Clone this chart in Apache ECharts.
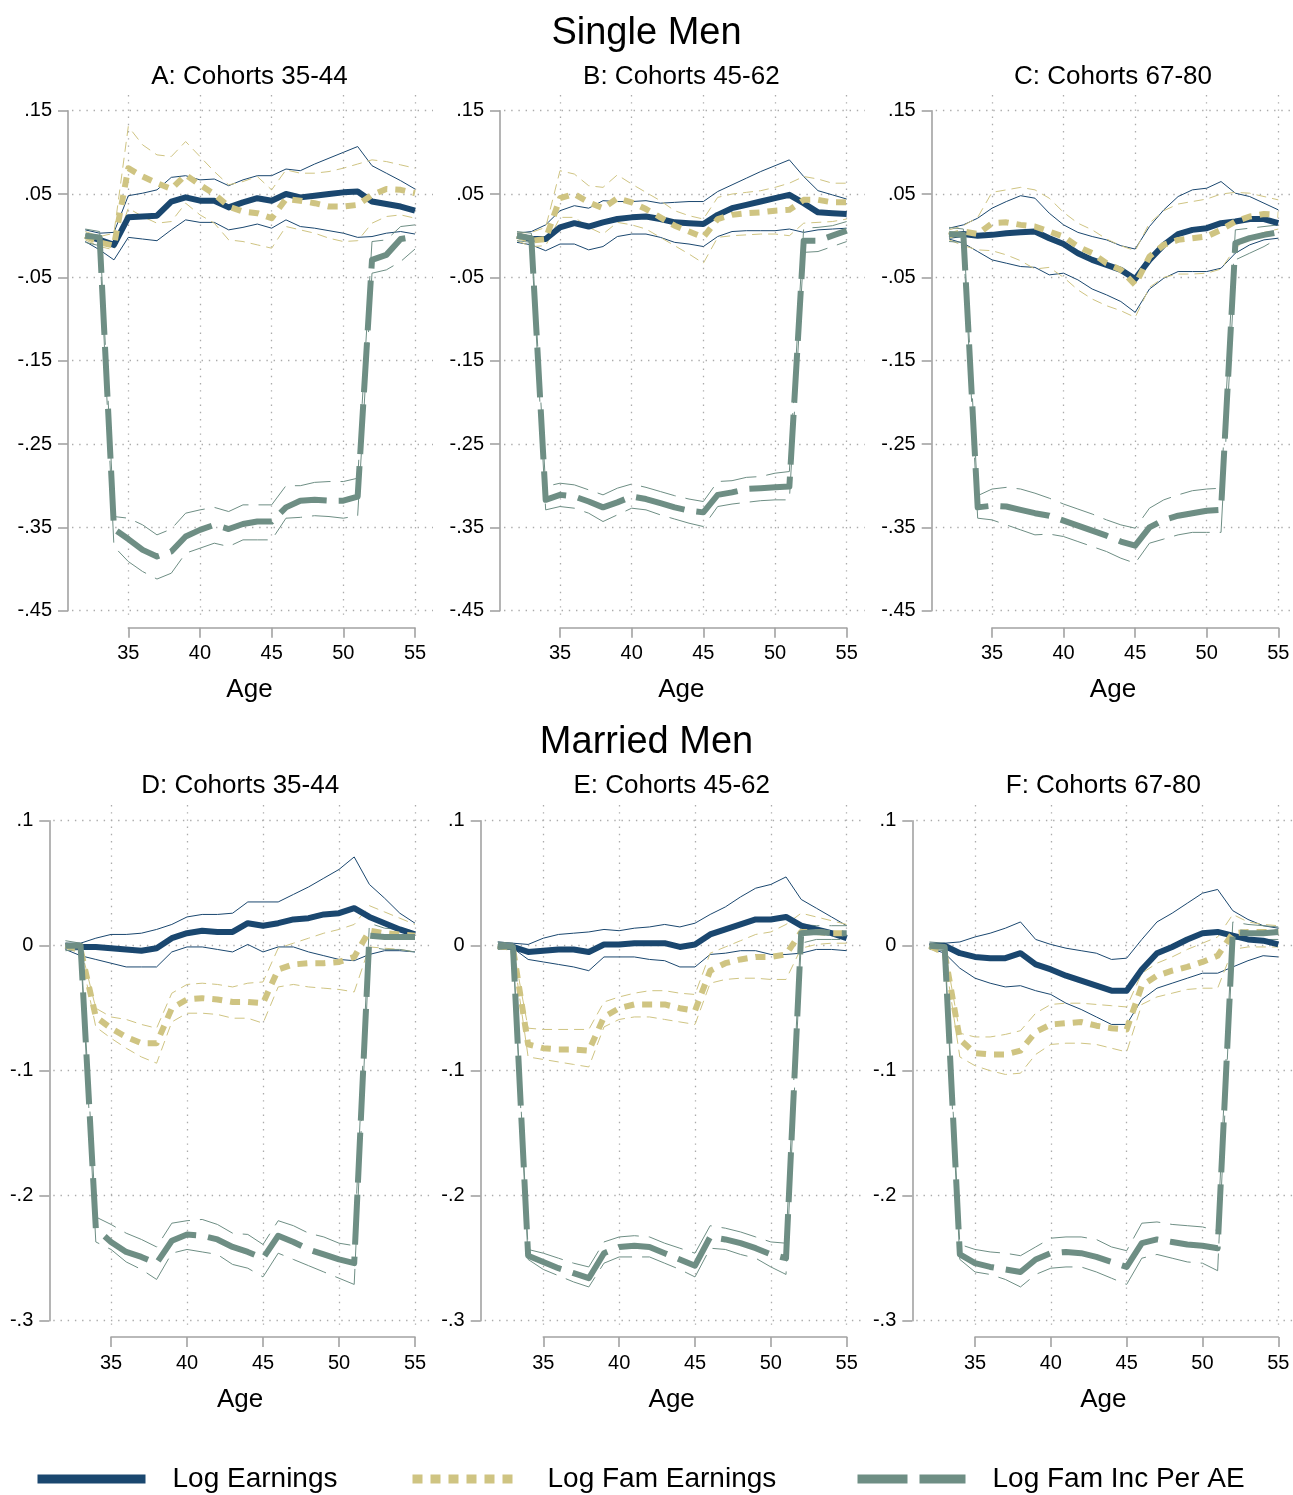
<!DOCTYPE html>
<html>
<head>
<meta charset="utf-8">
<title>Earnings and family income around the event, by cohort</title>
<script src="https://cdn.jsdelivr.net/npm/echarts@6.0.0/dist/echarts.min.js"></script>
<style>
  html, body { margin: 0; padding: 0; background: #ffffff; }
  #chart { width: 1293px; height: 1495px; }
</style>
</head>
<body>
<div id="chart"></div>
<script>
// ---------------------------------------------------------------------------
// Data: age profiles (log points) with upper / lower confidence bounds
// ---------------------------------------------------------------------------
const ages = [32, 33, 34, 35, 36, 37, 38, 39, 40, 41, 42, 43, 44, 45, 46, 47, 48, 49, 50, 51, 52, 53, 54, 55];

// Panel A: single men, cohorts 35-44
const A_earn   = [0, -0.005, -0.011, 0.022, 0.023, 0.024, 0.041, 0.046, 0.042, 0.042, 0.034, 0.040, 0.045, 0.042, 0.050, 0.046, 0.048, 0.050, 0.052, 0.053, 0.041, 0.038, 0.035, 0.030];
const A_earnHi = [0.007, 0.003, 0.004, 0.048, 0.051, 0.055, 0.070, 0.072, 0.067, 0.068, 0.060, 0.067, 0.072, 0.072, 0.080, 0.078, 0.086, 0.093, 0.100, 0.107, 0.084, 0.075, 0.066, 0.056];
const A_earnLo = [-0.007, -0.017, -0.029, -0.002, -0.004, -0.006, 0.007, 0.019, 0.016, 0.016, 0.007, 0.010, 0.014, 0.009, 0.019, 0.011, 0.009, 0.006, 0.003, -0.002, -0.001, 0.003, 0.005, 0.002];
const A_fam    = [0, -0.008, -0.012, 0.081, 0.071, 0.063, 0.056, 0.073, 0.061, 0.050, 0.035, 0.029, 0.027, 0.021, 0.044, 0.042, 0.039, 0.035, 0.035, 0.037, 0.049, 0.056, 0.055, 0.051];
const A_famHi  = [0.005, -0.001, 0.003, 0.131, 0.109, 0.097, 0.095, 0.113, 0.095, 0.077, 0.061, 0.065, 0.071, 0.055, 0.079, 0.075, 0.075, 0.077, 0.081, 0.086, 0.091, 0.089, 0.085, 0.081];
const A_famLo  = [-0.005, -0.013, -0.017, 0.033, 0.023, 0.015, 0.017, 0.039, 0.025, 0.015, -0.005, -0.007, -0.011, -0.015, 0.011, 0.007, 0.003, -0.003, -0.007, -0.006, 0.015, 0.023, 0.025, 0.021];
const A_inc    = [0, -0.002, -0.352, -0.364, -0.377, -0.385, -0.379, -0.361, -0.353, -0.347, -0.352, -0.346, -0.343, -0.343, -0.326, -0.318, -0.317, -0.318, -0.318, -0.313, -0.029, -0.023, -0.004, -0.001];
const A_incHi  = [0.008, 0.005, -0.337, -0.339, -0.347, -0.359, -0.352, -0.333, -0.329, -0.326, -0.331, -0.323, -0.323, -0.323, -0.300, -0.300, -0.296, -0.295, -0.295, -0.291, -0.007, -0.005, 0.011, 0.013];
const A_incLo  = [-0.008, -0.012, -0.373, -0.391, -0.403, -0.412, -0.405, -0.381, -0.375, -0.369, -0.373, -0.365, -0.365, -0.365, -0.339, -0.338, -0.336, -0.337, -0.339, -0.336, -0.045, -0.041, -0.031, -0.016];

// Panel B: single men, cohorts 45-62
const B_earn   = [0, -0.004, -0.004, 0.010, 0.015, 0.011, 0.016, 0.020, 0.022, 0.023, 0.020, 0.016, 0.015, 0.014, 0.025, 0.033, 0.037, 0.041, 0.045, 0.049, 0.039, 0.028, 0.027, 0.026];
const B_earnHi = [0.003, 0.005, 0.013, 0.030, 0.036, 0.033, 0.042, 0.041, 0.041, 0.042, 0.039, 0.040, 0.041, 0.041, 0.053, 0.061, 0.069, 0.077, 0.084, 0.091, 0.071, 0.054, 0.049, 0.044];
const B_earnLo = [-0.008, -0.011, -0.018, -0.010, -0.010, -0.017, -0.013, -0.001, 0.002, 0.002, -0.002, -0.008, -0.010, -0.013, -0.001, 0.005, 0.006, 0.006, 0.006, 0.008, 0.004, 0.007, 0.008, 0.009];
const B_fam    = [0, -0.006, -0.004, 0.045, 0.050, 0.040, 0.033, 0.045, 0.040, 0.032, 0.022, 0.012, 0.005, -0.002, 0.020, 0.025, 0.027, 0.028, 0.030, 0.031, 0.043, 0.043, 0.040, 0.040];
const B_famHi  = [0.003, 0.004, 0.010, 0.078, 0.074, 0.060, 0.058, 0.073, 0.062, 0.052, 0.042, 0.030, 0.024, 0.020, 0.046, 0.050, 0.052, 0.054, 0.058, 0.063, 0.071, 0.068, 0.063, 0.063];
const B_famLo  = [-0.006, -0.013, -0.012, 0.022, 0.022, 0.010, 0.002, 0.016, 0.013, 0.008, -0.002, -0.012, -0.022, -0.033, -0.002, 0.000, 0.001, 0.002, 0.002, 0.000, 0.015, 0.016, 0.017, 0.020];
const B_inc    = [0, -0.003, -0.317, -0.311, -0.313, -0.319, -0.326, -0.320, -0.313, -0.316, -0.321, -0.326, -0.330, -0.332, -0.311, -0.308, -0.304, -0.303, -0.302, -0.301, -0.006, -0.006, 0.000, 0.006];
const B_incHi  = [0.005, 0.003, -0.301, -0.297, -0.299, -0.305, -0.311, -0.303, -0.298, -0.302, -0.307, -0.312, -0.316, -0.319, -0.295, -0.294, -0.290, -0.289, -0.285, -0.283, 0.009, 0.010, 0.012, 0.017];
const B_incLo  = [-0.006, -0.008, -0.329, -0.325, -0.327, -0.333, -0.343, -0.335, -0.327, -0.329, -0.335, -0.340, -0.345, -0.349, -0.325, -0.322, -0.320, -0.318, -0.317, -0.317, -0.020, -0.019, -0.013, -0.007];

// Panel C: single men, cohorts 67-80
const C_earn   = [0, 0.002, 0.000, 0.001, 0.003, 0.004, 0.005, -0.003, -0.010, -0.021, -0.029, -0.035, -0.041, -0.052, -0.029, -0.011, 0.002, 0.007, 0.009, 0.015, 0.017, 0.020, 0.020, 0.015];
const C_earnHi = [0.009, 0.013, 0.021, 0.033, 0.041, 0.048, 0.045, 0.027, 0.013, 0.004, -0.001, -0.005, -0.012, -0.016, 0.011, 0.031, 0.047, 0.055, 0.057, 0.065, 0.051, 0.047, 0.039, 0.031];
const C_earnLo = [-0.004, -0.009, -0.019, -0.029, -0.033, -0.037, -0.038, -0.047, -0.045, -0.053, -0.064, -0.071, -0.079, -0.092, -0.064, -0.051, -0.043, -0.043, -0.043, -0.039, -0.021, -0.011, -0.005, -0.003];
const C_fam    = [0, 0.005, 0.002, 0.015, 0.016, 0.013, 0.011, 0.005, -0.001, -0.013, -0.021, -0.033, -0.041, -0.059, -0.025, -0.011, -0.005, -0.003, -0.001, 0.007, 0.017, 0.023, 0.026, 0.025];
const C_famHi  = [0.007, 0.012, 0.022, 0.052, 0.055, 0.058, 0.055, 0.045, 0.028, 0.015, 0.007, -0.004, -0.012, -0.018, 0.015, 0.030, 0.038, 0.041, 0.044, 0.050, 0.052, 0.051, 0.047, 0.043];
const C_famLo  = [-0.005, -0.012, -0.017, -0.018, -0.023, -0.030, -0.040, -0.038, -0.050, -0.065, -0.076, -0.084, -0.090, -0.098, -0.062, -0.050, -0.046, -0.046, -0.045, -0.040, -0.015, -0.002, 0.004, 0.008];
const C_inc    = [0.002, 0.001, -0.326, -0.324, -0.325, -0.329, -0.333, -0.336, -0.342, -0.348, -0.354, -0.360, -0.367, -0.372, -0.350, -0.341, -0.336, -0.333, -0.330, -0.329, -0.009, -0.003, 0.001, 0.004];
const C_incHi  = [0.010, 0.008, -0.312, -0.304, -0.302, -0.304, -0.309, -0.315, -0.322, -0.328, -0.334, -0.341, -0.347, -0.351, -0.327, -0.317, -0.311, -0.306, -0.304, -0.303, 0.007, 0.009, 0.011, 0.013];
const C_incLo  = [-0.007, -0.008, -0.339, -0.341, -0.347, -0.353, -0.359, -0.358, -0.361, -0.367, -0.373, -0.379, -0.387, -0.393, -0.369, -0.364, -0.359, -0.356, -0.356, -0.356, -0.029, -0.021, -0.013, -0.003];

// Panel D: married men, cohorts 35-44
const D_earn   = [0, -0.001, -0.001, -0.002, -0.003, -0.004, -0.002, 0.006, 0.010, 0.012, 0.011, 0.011, 0.018, 0.016, 0.018, 0.021, 0.022, 0.025, 0.026, 0.030, 0.023, 0.018, 0.013, 0.009];
const D_earnHi = [0.002, 0.002, 0.006, 0.009, 0.009, 0.010, 0.013, 0.017, 0.023, 0.025, 0.025, 0.026, 0.035, 0.035, 0.035, 0.041, 0.047, 0.054, 0.061, 0.071, 0.049, 0.038, 0.026, 0.018];
const D_earnLo = [-0.003, -0.008, -0.011, -0.014, -0.017, -0.017, -0.017, -0.005, -0.001, -0.001, -0.003, -0.005, 0.001, -0.005, -0.001, -0.001, -0.005, -0.008, -0.011, -0.012, -0.007, -0.004, -0.004, -0.005];
const D_fam    = [0, -0.003, -0.057, -0.066, -0.073, -0.078, -0.078, -0.050, -0.043, -0.042, -0.043, -0.045, -0.045, -0.046, -0.019, -0.015, -0.014, -0.014, -0.013, -0.009, 0.012, 0.010, 0.009, 0.008];
const D_famHi  = [0.001, -0.001, -0.050, -0.057, -0.059, -0.063, -0.066, -0.038, -0.031, -0.030, -0.031, -0.033, -0.030, -0.029, -0.002, 0.002, 0.006, 0.010, 0.013, 0.017, 0.032, 0.027, 0.022, 0.017];
const D_famLo  = [-0.002, -0.006, -0.065, -0.074, -0.082, -0.089, -0.094, -0.061, -0.054, -0.054, -0.055, -0.058, -0.058, -0.062, -0.033, -0.031, -0.033, -0.034, -0.035, -0.037, -0.001, -0.002, -0.003, -0.005];
const D_inc    = [0, 0, -0.226, -0.237, -0.245, -0.249, -0.254, -0.236, -0.231, -0.232, -0.235, -0.241, -0.245, -0.250, -0.232, -0.237, -0.243, -0.247, -0.251, -0.254, 0.008, 0.007, 0.007, 0.007];
const D_incHi  = [0.004, 0.002, -0.217, -0.223, -0.230, -0.235, -0.241, -0.222, -0.220, -0.219, -0.223, -0.230, -0.231, -0.239, -0.220, -0.224, -0.230, -0.233, -0.238, -0.240, 0.018, 0.014, 0.013, 0.012];
const D_incLo  = [-0.004, -0.003, -0.237, -0.243, -0.253, -0.259, -0.267, -0.246, -0.243, -0.245, -0.247, -0.255, -0.258, -0.265, -0.246, -0.251, -0.256, -0.261, -0.266, -0.271, -0.001, -0.003, -0.003, -0.005];

// Panel E: married men, cohorts 45-62
const E_earn   = [0, -0.001, -0.005, -0.004, -0.003, -0.003, -0.005, 0.001, 0.001, 0.002, 0.002, 0.002, -0.001, 0.001, 0.009, 0.013, 0.017, 0.021, 0.021, 0.023, 0.016, 0.013, 0.010, 0.006];
const E_earnHi = [0.003, 0.002, 0.001, 0.006, 0.009, 0.010, 0.011, 0.013, 0.012, 0.014, 0.015, 0.017, 0.015, 0.018, 0.025, 0.031, 0.039, 0.046, 0.049, 0.055, 0.037, 0.030, 0.023, 0.016];
const E_earnLo = [-0.002, -0.002, -0.011, -0.013, -0.015, -0.017, -0.020, -0.009, -0.009, -0.009, -0.011, -0.012, -0.017, -0.017, -0.007, -0.006, -0.004, -0.004, -0.007, -0.007, -0.006, -0.003, -0.003, -0.004];
const E_fam    = [0, -0.002, -0.079, -0.082, -0.083, -0.083, -0.084, -0.057, -0.050, -0.047, -0.047, -0.047, -0.050, -0.052, -0.020, -0.014, -0.011, -0.009, -0.009, -0.007, 0.011, 0.011, 0.010, 0.010];
const E_famHi  = [0.001, -0.001, -0.066, -0.067, -0.067, -0.067, -0.067, -0.045, -0.041, -0.038, -0.036, -0.036, -0.038, -0.039, -0.006, -0.001, 0.004, 0.009, 0.011, 0.017, 0.026, 0.023, 0.020, 0.017];
const E_famLo  = [-0.001, -0.004, -0.089, -0.091, -0.093, -0.095, -0.097, -0.065, -0.059, -0.057, -0.057, -0.059, -0.061, -0.063, -0.030, -0.027, -0.026, -0.026, -0.027, -0.027, -0.002, 0.001, 0.002, 0.002];
const E_inc    = [0, -0.001, -0.248, -0.253, -0.258, -0.262, -0.266, -0.246, -0.241, -0.240, -0.241, -0.246, -0.251, -0.256, -0.233, -0.235, -0.238, -0.242, -0.247, -0.250, 0.010, 0.011, 0.010, 0.010];
const E_incHi  = [0.003, 0.002, -0.243, -0.246, -0.250, -0.254, -0.257, -0.237, -0.233, -0.232, -0.233, -0.238, -0.242, -0.246, -0.224, -0.226, -0.229, -0.233, -0.237, -0.238, 0.017, 0.016, 0.016, 0.016];
const E_incLo  = [-0.003, -0.003, -0.251, -0.259, -0.264, -0.269, -0.273, -0.254, -0.249, -0.249, -0.249, -0.254, -0.259, -0.265, -0.242, -0.243, -0.247, -0.250, -0.257, -0.263, 0.002, 0.005, 0.005, 0.005];

// Panel F: married men, cohorts 67-80
const F_earn   = [0, 0, -0.006, -0.009, -0.010, -0.010, -0.006, -0.015, -0.019, -0.024, -0.028, -0.032, -0.036, -0.036, -0.019, -0.006, -0.001, 0.005, 0.010, 0.011, 0.008, 0.005, 0.004, 0.001];
const F_earnHi = [0.001, 0.002, 0.003, 0.007, 0.010, 0.014, 0.019, 0.005, 0.001, -0.002, -0.004, -0.006, -0.011, -0.010, 0.005, 0.019, 0.026, 0.034, 0.042, 0.045, 0.028, 0.021, 0.016, 0.014];
const F_earnLo = [-0.002, -0.006, -0.018, -0.026, -0.030, -0.033, -0.032, -0.036, -0.039, -0.046, -0.051, -0.057, -0.063, -0.063, -0.043, -0.034, -0.030, -0.026, -0.022, -0.022, -0.017, -0.012, -0.008, -0.009];
const F_fam    = [0, -0.006, -0.075, -0.086, -0.087, -0.087, -0.084, -0.069, -0.063, -0.062, -0.061, -0.064, -0.066, -0.067, -0.032, -0.024, -0.020, -0.017, -0.013, -0.008, 0.010, 0.011, 0.011, 0.011];
const F_famHi  = [0.001, -0.002, -0.070, -0.073, -0.073, -0.071, -0.068, -0.054, -0.047, -0.046, -0.046, -0.047, -0.048, -0.049, -0.022, -0.014, -0.009, -0.003, 0.002, 0.007, 0.025, 0.019, 0.017, 0.016];
const F_famLo  = [-0.002, -0.008, -0.089, -0.096, -0.100, -0.103, -0.102, -0.087, -0.079, -0.078, -0.078, -0.079, -0.082, -0.085, -0.047, -0.041, -0.038, -0.035, -0.034, -0.034, -0.003, -0.001, -0.001, -0.001];
const F_inc    = [0, -0.001, -0.247, -0.254, -0.257, -0.259, -0.261, -0.251, -0.246, -0.245, -0.246, -0.249, -0.253, -0.257, -0.238, -0.235, -0.237, -0.239, -0.240, -0.242, 0.011, 0.010, 0.010, 0.011];
const F_incHi  = [0.003, 0.002, -0.239, -0.243, -0.245, -0.246, -0.248, -0.241, -0.234, -0.233, -0.233, -0.235, -0.241, -0.244, -0.222, -0.221, -0.223, -0.224, -0.225, -0.228, 0.019, 0.017, 0.016, 0.015];
const F_incLo  = [-0.003, -0.004, -0.251, -0.261, -0.263, -0.267, -0.273, -0.263, -0.258, -0.257, -0.257, -0.261, -0.266, -0.271, -0.250, -0.247, -0.250, -0.253, -0.254, -0.260, 0.005, 0.005, 0.005, 0.005];

// Tick values and text
const topYTicks    = [-0.45, -0.35, -0.25, -0.15, -0.05, 0.05, 0.15];
const bottomYTicks = [-0.3, -0.2, -0.1, 0, 0.1];
const ageTicks     = [35, 40, 45, 50, 55];
const rowTitles    = ['Single Men', 'Married Men'];
const panelTitles  = ['A: Cohorts 35-44', 'B: Cohorts 45-62', 'C: Cohorts 67-80',
                      'D: Cohorts 35-44', 'E: Cohorts 45-62', 'F: Cohorts 67-80'];
const xAxisTitle   = 'Age';
const seriesNames  = ['Log Earnings', 'Log Fam Earnings', 'Log Fam Inc Per AE'];

// ---------------------------------------------------------------------------
// Styling and layout
// ---------------------------------------------------------------------------
const FONT = '"Liberation Sans", Arial, Helvetica, sans-serif';
const KEYS = ['earn', 'fam', 'inc'];
const COLORS = { earn: '#1a476f', fam: '#cfc482', inc: '#6e8e84' };
const MAIN_STYLE = {
  earn: { width: 6, type: 'solid' },
  fam:  { width: 6, type: [10, 8] },
  inc:  { width: 6, type: [50, 12] }
};
const BAND_STYLE = {
  earn: { width: 1, type: 'solid' },
  fam:  { width: 1, type: [10, 6] },
  inc:  { width: 1, type: [36, 10] }
};
const AXIS_COLOR = '#a2a2a2';
const GRID_LINE = { color: '#ababab', width: 1.3, type: [1.4, 5.8] };

const rows = [
  { ticks: topYTicks, yTopPx: 110.7, yBotPx: 610.7, gridTop: 95, gridBot: 617, axisY: 627.7,
    titleTop: 15, panelTitleTop: 64, ageTop: 677,
    cols: [ { axisX: 68,    x35: 128.3, x55: 415 },
            { axisX: 500,   x35: 560,   x55: 846.7 },
            { axisX: 931.7, x35: 992,   x55: 1278.3 } ] },
  { ticks: bottomYTicks, yTopPx: 820.7, yBotPx: 1320.7, gridTop: 805, gridBot: 1327, axisY: 1337,
    titleTop: 724, panelTitleTop: 773, ageTop: 1387,
    cols: [ { axisX: 49.3,  x35: 111,   x55: 415 },
            { axisX: 480.7, x35: 543.3, x55: 846.7 },
            { axisX: 912.3, x35: 975,   x55: 1278.3 } ] }
];

const panels = [
  { row: 0, col: 0, earn: A_earn, earnHi: A_earnHi, earnLo: A_earnLo, fam: A_fam, famHi: A_famHi, famLo: A_famLo, inc: A_inc, incHi: A_incHi, incLo: A_incLo },
  { row: 0, col: 1, earn: B_earn, earnHi: B_earnHi, earnLo: B_earnLo, fam: B_fam, famHi: B_famHi, famLo: B_famLo, inc: B_inc, incHi: B_incHi, incLo: B_incLo },
  { row: 0, col: 2, earn: C_earn, earnHi: C_earnHi, earnLo: C_earnLo, fam: C_fam, famHi: C_famHi, famLo: C_famLo, inc: C_inc, incHi: C_incHi, incLo: C_incLo },
  { row: 1, col: 0, earn: D_earn, earnHi: D_earnHi, earnLo: D_earnLo, fam: D_fam, famHi: D_famHi, famLo: D_famLo, inc: D_inc, incHi: D_incHi, incLo: D_incLo },
  { row: 1, col: 1, earn: E_earn, earnHi: E_earnHi, earnLo: E_earnLo, fam: E_fam, famHi: E_famHi, famLo: E_famLo, inc: E_inc, incHi: E_incHi, incLo: E_incLo },
  { row: 1, col: 2, earn: F_earn, earnHi: F_earnHi, earnLo: F_earnLo, fam: F_fam, famHi: F_famHi, famLo: F_famLo, inc: F_inc, incHi: F_incHi, incLo: F_incLo }
];

// Stata-style tick text: ".15", "-.05", "0"
function tickText(v) {
  const s = String(Math.round(v * 100) / 100);
  return s.replace(/^(-?)0\./, '$1.');
}

function lineSeries(name, values, axisIndex, color, style, z) {
  return {
    type: 'line', name: name,
    xAxisIndex: axisIndex, yAxisIndex: axisIndex,
    data: ages.map((a, i) => [a, values[i]]),
    showSymbol: false, symbol: 'none', clip: false, silent: true, z: z,
    lineStyle: { color: color, width: style.width, type: style.type, cap: 'butt', join: 'round' },
    emphasis: { disabled: true }
  };
}

const grids = [], xAxes = [], yAxes = [], series = [], titles = [];
const W = 1293;

rows.forEach((row, r) => {
  titles.push({ text: rowTitles[r], left: W / 2, top: row.titleTop, textAlign: 'center', padding: 0,
    textStyle: { fontFamily: FONT, fontSize: 38, fontWeight: 'normal', color: '#000' } });
});

panels.forEach((p, idx) => {
  const row = rows[p.row];
  const col = row.cols[p.col];
  const ppy = (col.x55 - col.x35) / (ageTicks[ageTicks.length - 1] - ageTicks[0]);
  const hLeft = col.axisX + 4;
  const hRight = Math.min(col.x55 + 18, W);
  const yMin = row.ticks[0], yMax = row.ticks[row.ticks.length - 1];

  // data grid: y axis, horizontal grid lines, all curves
  const gi = grids.length;
  grids.push({ left: hLeft, top: row.yTopPx, width: hRight - hLeft, height: row.yBotPx - row.yTopPx,
               outerBoundsMode: 'none', containLabel: false });
  xAxes.push({ gridIndex: gi, type: 'value', show: false,
               min: ageTicks[0] - (col.x35 - hLeft) / ppy,
               max: ageTicks[ageTicks.length - 1] + (hRight - col.x55) / ppy });
  yAxes.push({ gridIndex: gi, type: 'value', min: yMin, max: yMax, offset: 4,
               axisLine: { show: true, onZero: false, lineStyle: { color: AXIS_COLOR, width: 1.6 } },
               axisTick: { show: true, length: 10, customValues: row.ticks, lineStyle: { color: AXIS_COLOR, width: 1.6 } },
               axisLabel: { customValues: row.ticks, formatter: tickText, margin: 16,
                            fontFamily: FONT, fontSize: 20, color: '#000' },
               splitLine: { show: true, customValues: row.ticks, lineStyle: GRID_LINE } });

  // vertical grid lines at the age ticks
  const vi = grids.length;
  grids.push({ left: col.x35, top: row.gridTop, width: col.x55 - col.x35, height: row.gridBot - row.gridTop,
               outerBoundsMode: 'none', containLabel: false });
  xAxes.push({ gridIndex: vi, type: 'value', min: ageTicks[0], max: ageTicks[ageTicks.length - 1], interval: 5,
               axisLine: { show: false }, axisTick: { show: false, customValues: ageTicks }, axisLabel: { show: false },
               splitLine: { show: true, lineStyle: GRID_LINE } });
  yAxes.push({ gridIndex: vi, type: 'value', show: false });

  // detached age axis below the plot
  const xi = grids.length;
  grids.push({ left: col.x35, top: row.axisY - 4, width: col.x55 - col.x35, height: 4,
               outerBoundsMode: 'none', containLabel: false });
  xAxes.push({ gridIndex: xi, type: 'value', position: 'bottom',
               min: ageTicks[0], max: ageTicks[ageTicks.length - 1], interval: 5,
               axisLine: { show: true, onZero: false, lineStyle: { color: AXIS_COLOR, width: 1.6 } },
               axisTick: { show: true, length: 10, customValues: ageTicks, lineStyle: { color: AXIS_COLOR, width: 1.6 } },
               axisLabel: { customValues: ageTicks, margin: 16, fontFamily: FONT, fontSize: 20, color: '#000' },
               splitLine: { show: false } });
  yAxes.push({ gridIndex: xi, type: 'value', show: false });

  // titles
  const centerX = (col.axisX + col.x55 + 16) / 2;
  titles.push({ text: panelTitles[idx], left: centerX, top: row.panelTitleTop, textAlign: 'center', padding: 0,
                textStyle: { fontFamily: FONT, fontSize: 26, fontWeight: 'normal', color: '#000' } });
  titles.push({ text: xAxisTitle, left: centerX, top: row.ageTop, textAlign: 'center', padding: 0,
                textStyle: { fontFamily: FONT, fontSize: 26, fontWeight: 'normal', color: '#000' } });

  // confidence bounds first, then the estimates on top
  KEYS.forEach((k, j) => {
    series.push(lineSeries(seriesNames[j] + ' upper', p[k + 'Hi'], gi, COLORS[k], BAND_STYLE[k], 2));
    series.push(lineSeries(seriesNames[j] + ' lower', p[k + 'Lo'], gi, COLORS[k], BAND_STYLE[k], 2));
  });
  KEYS.forEach((k, j) => {
    series.push(lineSeries(seriesNames[j], p[k], gi, COLORS[k], MAIN_STYLE[k], 3 + j));
  });
});

const legendLeft = [33, 408, 853];
const legends = KEYS.map((k, j) => ({
  data: [seriesNames[j]],
  left: legendLeft[j], top: 1465, padding: 0, orient: 'horizontal',
  itemWidth: 108, itemHeight: 9, selectedMode: false,
  itemStyle: { color: 'transparent', borderColor: 'transparent', borderWidth: 0, opacity: 0 },
  lineStyle: { color: COLORS[k], width: 9, type: MAIN_STYLE[k].type, cap: 'butt' },
  textStyle: { fontFamily: FONT, fontSize: 28, color: '#000', padding: [0, 0, 0, 22] }
}));

const chart = echarts.init(document.getElementById('chart'), null, { renderer: 'canvas' });
chart.setOption({
  backgroundColor: '#ffffff',
  animation: false,
  textStyle: { fontFamily: FONT },
  title: titles,
  legend: legends,
  grid: grids,
  xAxis: xAxes,
  yAxis: yAxes,
  series: series
});
</script>
</body>
</html>
